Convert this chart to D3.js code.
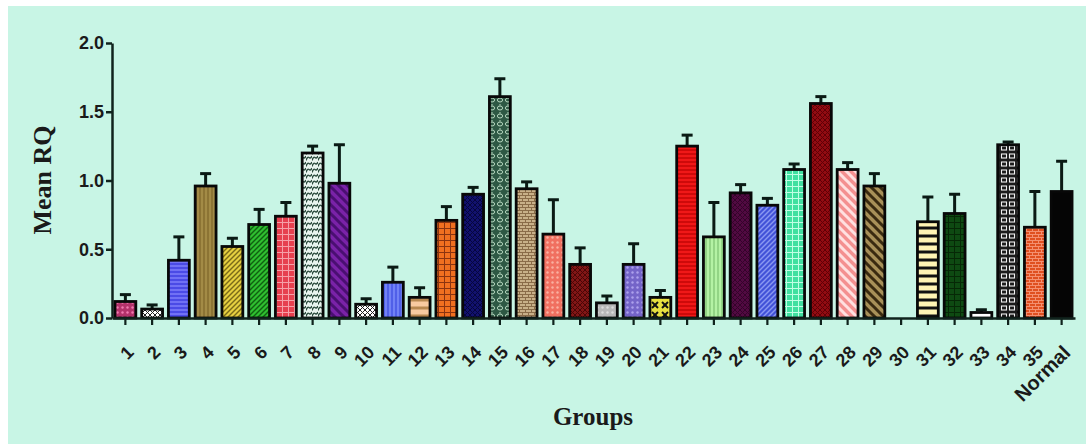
<!DOCTYPE html>
<html>
<head>
<meta charset="utf-8">
<script src="https://cdn.jsdelivr.net/npm/d3@7"></script>
<style>
  html, body { margin: 0; padding: 0; background: #ffffff; }
  svg { display: block; }
</style>
</head>
<body>
<svg id="chart" width="1086" height="444"></svg>
<script>
// Groups on the x axis
const groups = ["1","2","3","4","5","6","7","8","9","10","11","12","13","14","15","16","17","18",
  "19","20","21","22","23","24","25","26","27","28","29","30","31","32","33","34","35","Normal"];
// Mean relative quantification per group
const meanRQ = [0.12,0.065,0.42,0.96,0.52,0.68,0.74,1.20,0.98,0.10,0.26,0.15,0.71,0.90,1.61,0.94,0.61,0.39,
  0.11,0.39,0.15,1.25,0.59,0.91,0.82,1.08,1.56,1.08,0.96,0.0,0.70,0.76,0.04,1.26,0.66,0.92];
// Upper error (SEM) per group
const errRQ = [0.05,0.03,0.17,0.09,0.06,0.11,0.10,0.05,0.28,0.04,0.11,0.07,0.10,0.05,0.13,0.05,0.25,0.12,
  0.05,0.15,0.05,0.08,0.25,0.06,0.05,0.04,0.05,0.05,0.09,0.0,0.18,0.14,0.02,0.02,0.26,0.22];
// Y axis ticks
const yTicks = [0, 0.5, 1.0, 1.5, 2.0];

// Fill style per bar: [pattern type, base colour, pattern colour]
const barStyles = [
  ["dots","#b3326a","#f07ab0"], ["cross","#ffffff","#222222"], ["hlines","#4b4be6","#8a8aff"],
  ["vlines","#8c7434","#b39a52"], ["diag","#e6d040","#7a6a18"], ["diag","#2fbf30","#0f6010"],
  ["grid","#e6404f","#f5a0a8"], ["wave","#e8f4ee","#2a4a3c"], ["diagw","#7a22a8","#4a0f72"],
  ["cross","#ffffff","#222222"], ["vlines","#5060e8","#8898ff"], ["hband","#f8caa0","#b88850"],
  ["grid","#f07020","#8a3410"], ["cross","#12126e","#06063e"], ["chain","#2e5844","#b8d8c0"],
  ["brick","#c8b088","#8a6c48"], ["dots","#f07060","#fab0a0"], ["cross","#821616","#4a0606"],
  ["dots","#b8b8b8","#dcdcdc"], ["dots","#7464c8","#aca0ec"], ["xmark","#e8e040","#111111"],
  ["hlines","#f01818","#b80000"], ["vlines","#b4f2a4","#7cc070"], ["cross","#520a42","#34042a"],
  ["diag","#4252d8","#8a98f2"], ["grid","#40e0a0","#c0ffe4"], ["cross","#920c12","#600006"],
  ["diagw","#f49090","#ffe0e0"], ["diagw","#a89058","#3a2a10"], ["solid","#ffffff","#ffffff"],
  ["hband","#fff4b4","#111111"], ["grid","#0e4a12","#062806"], ["solid","#ffffff","#ffffff"],
  ["box","#1a1a1a","#f0f0f0"], ["brick","#e05020","#f49070"], ["solid","#050505","#050505"]
];

const W = 1086, H = 444;
const svg = d3.select("#chart");

// Background panel
svg.append("rect").attr("x", 8).attr("y", 6).attr("width", W - 8).attr("height", H - 6)
  .attr("fill", "#c8f5e5");

const x = d3.scaleBand().domain(groups).range([112, 1075])
  .paddingInner(0.22).paddingOuter(0.11);
const y = d3.scaleLinear().domain([0, 2]).range([318, 43]);

// Pattern definitions
const defs = svg.append("defs");
function addPattern(id, type, bg, fg) {
  const s = { dots: 5, cross: 5, hlines: 4, vlines: 4, diag: 5, diagw: 9, grid: 6,
              wave: 6, chain: 8, brick: 6, hband: 8, xmark: 10, box: 8, solid: 4 }[type];
  const p = defs.append("pattern").attr("id", id).attr("patternUnits", "userSpaceOnUse")
    .attr("width", s).attr("height", s);
  p.append("rect").attr("width", s).attr("height", s).attr("fill", bg);
  const line = (x1, y1, x2, y2, w) => p.append("line").attr("x1", x1).attr("y1", y1)
    .attr("x2", x2).attr("y2", y2).attr("stroke", fg).attr("stroke-width", w);
  switch (type) {
    case "dots":
      p.append("circle").attr("cx", s / 2).attr("cy", s / 2).attr("r", 1.2).attr("fill", fg);
      break;
    case "cross":
      line(0, 0, s, s, 1); line(s, 0, 0, s, 1);
      break;
    case "hlines": line(0, s / 2, s, s / 2, 1.2); break;
    case "vlines": line(s / 2, 0, s / 2, s, 1.2); break;
    case "diag": line(0, s, s, 0, 1.4); line(-1, 1, 1, -1, 1.4); line(s - 1, s + 1, s + 1, s - 1, 1.4); break;
    case "diagw": line(0, 0, s, s, 3); line(-2, s - 2, 2, s + 2, 3); line(s - 2, -2, s + 2, 2, 3); break;
    case "grid": line(0, 0.5, s, 0.5, 1); line(0.5, 0, 0.5, s, 1); break;
    case "wave":
      p.append("path").attr("d", `M0,${s * 0.75} Q${s / 4},0 ${s / 2},${s * 0.25} T${s},0`)
        .attr("fill", "none").attr("stroke", fg).attr("stroke-width", 1.4);
      p.append("path").attr("d", `M0,${s * 1.75} Q${s / 4},${s} ${s / 2},${s * 1.25} T${s},${s}`)
        .attr("fill", "none").attr("stroke", fg).attr("stroke-width", 1.4);
      break;
    case "chain":
      p.append("ellipse").attr("cx", s / 2).attr("cy", s / 2).attr("rx", 2.6).attr("ry", 2)
        .attr("fill", "none").attr("stroke", fg).attr("stroke-width", 1);
      line(s / 2, 0, s / 2, 1.5, 1);
      break;
    case "brick":
      line(0, 0.5, s, 0.5, 1); line(0, s / 2 + 0.5, s, s / 2 + 0.5, 1);
      line(0.5, 0, 0.5, s / 2, 1); line(s / 2 + 0.5, s / 2, s / 2 + 0.5, s, 1);
      break;
    case "hband": line(0, s / 2, s, s / 2, 3); break;
    case "xmark": line(2, 2, s - 2, s - 2, 2); line(s - 2, 2, 2, s - 2, 2); break;
    case "box":
      p.append("rect").attr("x", 1.5).attr("y", 2).attr("width", s - 3).attr("height", s - 4)
        .attr("fill", "none").attr("stroke", fg).attr("stroke-width", 1.1);
      break;
  }
}
barStyles.forEach((st, i) => addPattern("fill" + i, st[0], st[1], st[2]));

const rows = groups.map((g, i) => ({ g, i, m: meanRQ[i], e: errRQ[i] }));

// Axes
const axisColor = "#10231d";
const yAxis = svg.append("g").attr("transform", "translate(112,0)")
  .call(d3.axisLeft(y).tickValues(yTicks).tickFormat(d3.format(".1f")).tickSize(6).tickSizeOuter(0));
yAxis.select(".domain").attr("stroke", axisColor).attr("stroke-width", 2.5);
yAxis.selectAll(".tick line").attr("stroke", axisColor).attr("stroke-width", 2.5);
yAxis.selectAll(".tick text").attr("x", -8)
  .attr("font-family", "Liberation Sans, Arial, sans-serif").attr("font-weight", "bold")
  .attr("font-size", 18).attr("fill", "#1a1a1a");

// Error bars (drawn under the bars so the stem starts at the bar top)
const err = svg.append("g");
rows.filter(d => d.e > 0).forEach(d => {
  const cx = x(d.g) + x.bandwidth() / 2;
  err.append("line").attr("x1", cx).attr("x2", cx).attr("y1", y(d.m)).attr("y2", y(d.m + d.e))
    .attr("stroke", "#0a1a14").attr("stroke-width", 3);
  err.append("line").attr("x1", cx - 5.5).attr("x2", cx + 5.5)
    .attr("y1", y(d.m + d.e)).attr("y2", y(d.m + d.e))
    .attr("stroke", "#0a1a14").attr("stroke-width", 3);
});

// Bars
svg.append("g").selectAll("rect").data(rows).join("rect")
  .attr("x", d => x(d.g))
  .attr("y", d => y(d.m))
  .attr("width", x.bandwidth())
  .attr("height", d => y(0) - y(d.m))
  .attr("fill", d => `url(#fill${d.i})`)
  .attr("stroke", "#080808").attr("stroke-width", 2.8);

const xAxis = svg.append("g").attr("transform", "translate(0,318)")
  .call(d3.axisBottom(x).tickSize(7).tickSizeOuter(0));
xAxis.select(".domain").attr("stroke", axisColor).attr("stroke-width", 2.5);
xAxis.selectAll(".tick line").attr("stroke", axisColor).attr("stroke-width", 2.2);
xAxis.selectAll(".tick text")
  .attr("font-family", "Liberation Sans, Arial, sans-serif").attr("font-weight", "bold")
  .attr("font-size", d => d === "Normal" ? 20 : 18).attr("fill", "#1a1a1a")
  .attr("text-anchor", "end").attr("dy", "0.35em")
  .attr("transform", "translate(5,31) rotate(-45)").attr("y", 0).attr("x", 0);

// Axis titles
svg.append("text").attr("transform", "translate(51,180) rotate(-90)")
  .attr("text-anchor", "middle")
  .attr("font-family", "Liberation Serif, Times New Roman, serif").attr("font-weight", "bold")
  .attr("font-size", 26).attr("fill", "#1a1a1a").text("Mean RQ");
svg.append("text").attr("x", 593).attr("y", 425).attr("text-anchor", "middle")
  .attr("font-family", "Liberation Serif, Times New Roman, serif").attr("font-weight", "bold")
  .attr("font-size", 25).attr("fill", "#1a1a1a").text("Groups");
</script>
</body>
</html>
